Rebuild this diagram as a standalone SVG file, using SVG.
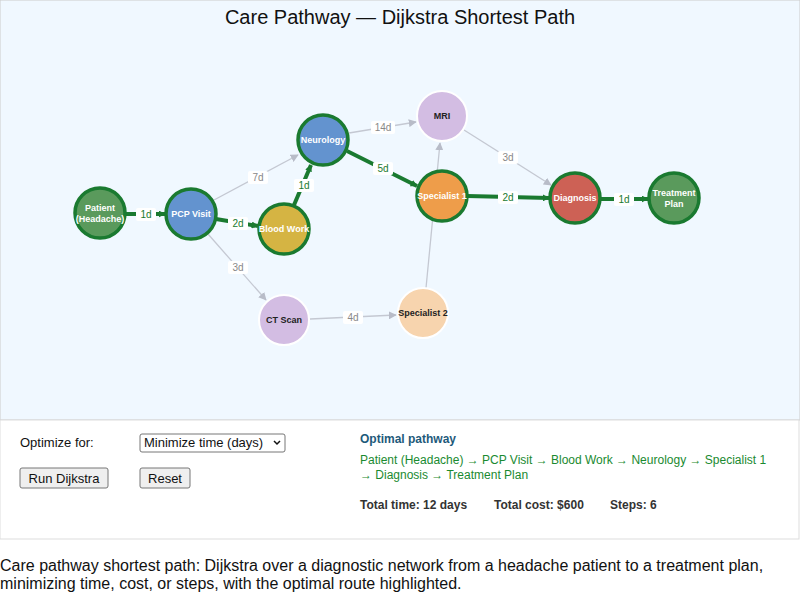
<svg xmlns="http://www.w3.org/2000/svg" width="800" height="598" viewBox="0 0 800 598">
<style>
text{font-family:"Liberation Sans",Arial,sans-serif}
.e{stroke:#c4c8d2;stroke-width:1.3;fill:none}
.p{stroke:#1a7a30;stroke-width:4;fill:none}
.lb{fill:#fff}
.lt{font-size:10px;text-anchor:middle}
.lg{fill:#888}
.lp{fill:#1a7a30}
.n{stroke:#fff;stroke-width:2}
.np{stroke:#1a7a30;stroke-width:3.5}
.nt{font-size:9px;font-weight:bold;text-anchor:middle;fill:#fff}
.nd{font-size:9px;font-weight:bold;text-anchor:middle;fill:#222}
</style>
<defs>
<marker id="ag" viewBox="0 0 10 10" refX="9" refY="5" markerWidth="8" markerHeight="8" orient="auto" markerUnits="userSpaceOnUse"><path d="M0,0L10,5L0,10z" fill="#b8bcc8"/></marker>
<marker id="ap" viewBox="0 0 10 10" refX="9" refY="5" markerWidth="7" markerHeight="7" orient="auto" markerUnits="userSpaceOnUse"><path d="M0,0L10,5L0,10z" fill="#1a7a30"/></marker>
</defs>
<rect x="0" y="0" width="800" height="420" fill="#f0f8ff" stroke="#ccc"/>
<text x="400" y="24" font-size="20" text-anchor="middle" fill="#111">Care Pathway — Dijkstra Shortest Path</text>
<g id="connectors">
<line class="e" x1="214" y1="200" x2="298" y2="155" marker-end="url(#ag)"/>
<line class="e" x1="208" y1="234" x2="266" y2="300" marker-end="url(#ag)"/>
<line class="e" x1="310" y1="319" x2="396" y2="315" marker-end="url(#ag)"/>
<line class="e" x1="426" y1="288" x2="440" y2="143" marker-end="url(#ag)"/>
<line class="e" x1="349" y1="133" x2="416" y2="122" marker-end="url(#ag)"/>
<line class="e" x1="464" y1="130" x2="551" y2="185" marker-end="url(#ag)"/>
<line class="p" x1="125" y1="214" x2="165" y2="214" marker-end="url(#ap)"/>
<line class="p" x1="216" y1="219" x2="258" y2="226" marker-end="url(#ap)"/>
<line class="p" x1="294" y1="205" x2="311" y2="165" marker-end="url(#ap)"/>
<line class="p" x1="347" y1="151" x2="417" y2="186" marker-end="url(#ap)"/>
<line class="p" x1="467" y1="196" x2="549" y2="198" marker-end="url(#ap)"/>
<line class="p" x1="600" y1="199" x2="648" y2="199" marker-end="url(#ap)"/>
<rect class="lb" x="248" y="171" width="20" height="13" rx="2"/><text class="lt lg" x="258" y="181">7d</text>
<rect class="lb" x="228" y="261" width="20" height="13" rx="2"/><text class="lt lg" x="238" y="271">3d</text>
<rect class="lb" x="343" y="311" width="20" height="13" rx="2"/><text class="lt lg" x="353" y="321">4d</text>
<rect class="lb" x="371" y="121" width="24" height="13" rx="2"/><text class="lt lg" x="383" y="131">14d</text>
<rect class="lb" x="498" y="151" width="20" height="13" rx="2"/><text class="lt lg" x="508" y="161">3d</text>
<rect class="lb" x="136" y="208" width="20" height="13" rx="2"/><text class="lt lp" x="146" y="218">1d</text>
<rect class="lb" x="228" y="217" width="20" height="13" rx="2"/><text class="lt lp" x="238" y="227">2d</text>
<rect class="lb" x="294" y="179" width="20" height="13" rx="2"/><text class="lt lp" x="304" y="189">1d</text>
<rect class="lb" x="373" y="162" width="20" height="13" rx="2"/><text class="lt lp" x="383" y="172">5d</text>
<rect class="lb" x="498" y="191" width="20" height="13" rx="2"/><text class="lt lp" x="508" y="201">2d</text>
<rect class="lb" x="614" y="193" width="20" height="13" rx="2"/><text class="lt lp" x="624" y="203">1d</text>
</g>
<g id="mri"><circle class="n" cx="442" cy="116" r="25" fill="#d3bde3"/><text class="nd" x="442" y="119">MRI</text></g>
<g id="ct"><circle class="n" cx="284" cy="320" r="25" fill="#d3bde3"/><text class="nd" x="284" y="323">CT Scan</text></g>
<g id="spec2"><circle class="n" cx="423" cy="313" r="25" fill="#f7d4ae"/><text class="nd" x="423" y="316">Specialist 2</text></g>
<g id="patient"><circle class="np" cx="100" cy="213" r="25" fill="#5a9a5c"/><text class="nt" x="100" y="211">Patient</text><text class="nt" x="100" y="222">(Headache)</text></g>
<g id="pcp"><circle class="np" cx="191" cy="214" r="25" fill="#6393cf"/><text class="nt" x="191" y="217">PCP Visit</text></g>
<g id="blood"><circle class="np" cx="284" cy="229" r="25" fill="#d5b443"/><text class="nt" x="284" y="232">Blood Work</text></g>
<g id="neuro"><circle class="np" cx="323" cy="140" r="25" fill="#6393cf"/><text class="nt" x="323" y="143">Neurology</text></g>
<g id="spec1"><circle class="np" cx="442" cy="196" r="25" fill="#ee9d4a"/><text class="nt" x="442" y="199">Specialist 1</text></g>
<g id="diag"><circle class="np" cx="575" cy="198" r="25" fill="#cd6155"/><text class="nt" x="575" y="201">Diagnosis</text></g>
<g id="treat"><circle class="np" cx="674" cy="198" r="25" fill="#5a9a5c"/><text class="nt" x="674" y="196">Treatment</text><text class="nt" x="674" y="207">Plan</text></g>
<g id="controls">
<rect x="0" y="420" width="799" height="119" fill="#fff" stroke="#ddd"/>
<text x="20" y="447" font-size="13" fill="#111">Optimize for:</text>
<rect x="140" y="434" width="145" height="18" rx="2" fill="#fff" stroke="#767676"/>
<text x="144" y="447" font-size="13" fill="#111">Minimize time (days)</text>
<path d="M274,441l3,3l3,-3" stroke="#111" stroke-width="1.5" fill="none"/>
<rect x="20" y="468" width="88" height="20" rx="2" fill="#efefef" stroke="#767676"/>
<text x="64" y="483" font-size="13" text-anchor="middle" fill="#111">Run Dijkstra</text>
<rect x="140" y="468" width="50" height="20" rx="2" fill="#efefef" stroke="#767676"/>
<text x="165" y="483" font-size="13" text-anchor="middle" fill="#111">Reset</text>
<text x="360" y="443" font-size="12" font-weight="bold" fill="#1e5a7a">Optimal pathway</text>
<text x="360" y="464" font-size="12" fill="#1a8a30">Patient (Headache) → PCP Visit → Blood Work → Neurology → Specialist 1</text>
<text x="360" y="479" font-size="12" fill="#1a8a30">→ Diagnosis → Treatment Plan</text>
<text x="360" y="509" font-size="12" font-weight="bold" fill="#333">Total time: 12 days<tspan x="494">Total cost: $600</tspan><tspan x="610">Steps: 6</tspan></text>
</g>
<text x="0" y="571" font-size="16" fill="#111">Care pathway shortest path: Dijkstra over a diagnostic network from a headache patient to a treatment plan,</text>
<text x="0" y="589" font-size="16" fill="#111">minimizing time, cost, or steps, with the optimal route highlighted.</text>
</svg>
